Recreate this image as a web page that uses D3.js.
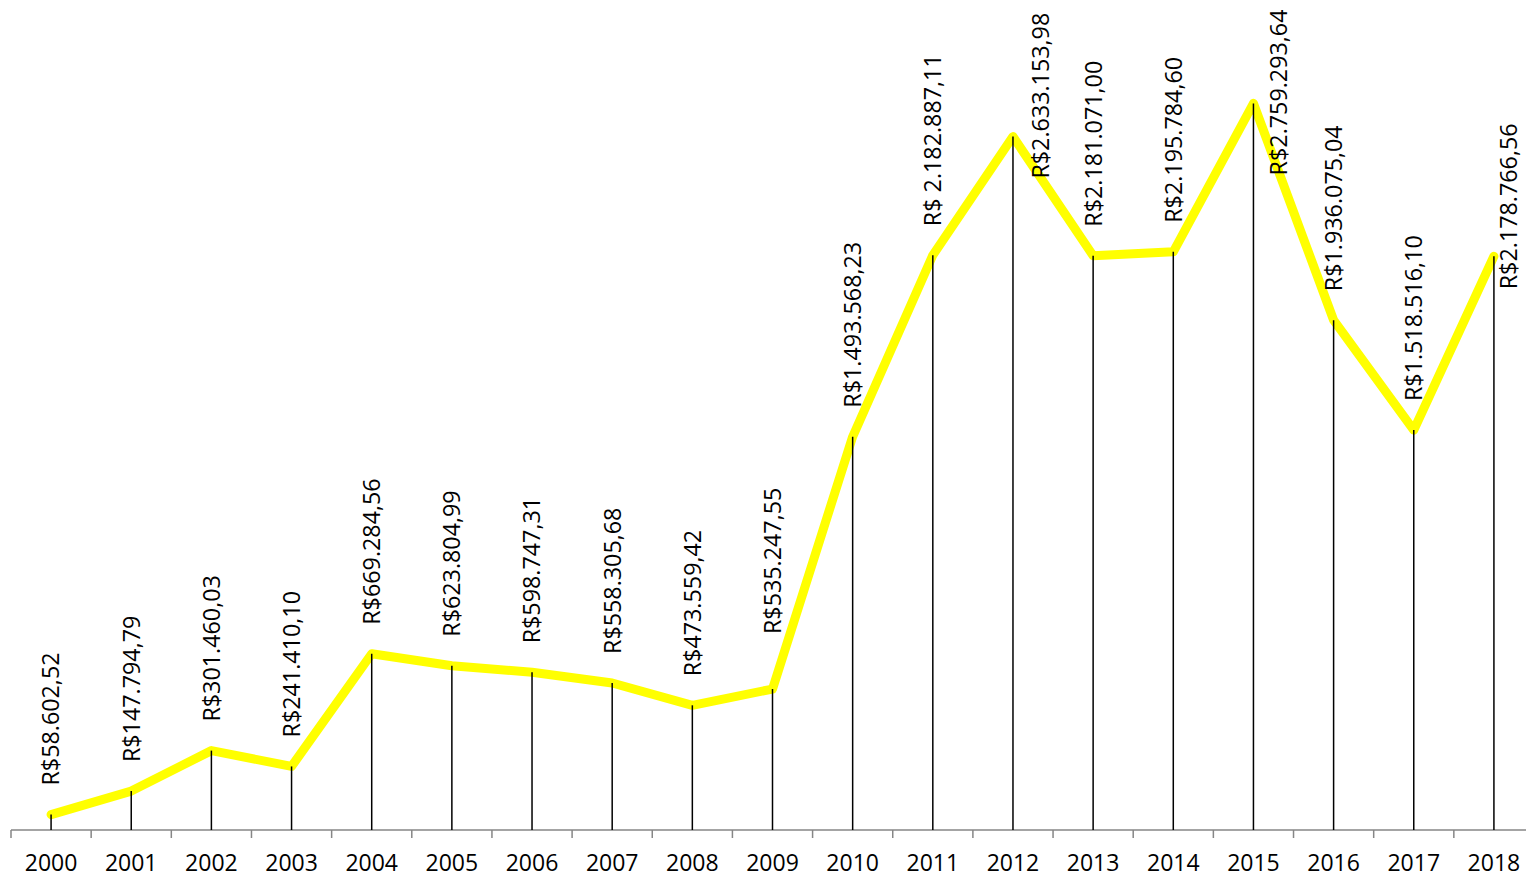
<!DOCTYPE html>
<html>
<head>
<meta charset="utf-8">
<script src="https://cdn.jsdelivr.net/npm/d3@7"></script>
<style>
  body { margin: 0; background: #fff; }
  svg { display: block; }
</style>
</head>
<body>
<div id="chart"></div>
<script>
// years on the category axis
const years = ["2000", "2001", "2002", "2003", "2004", "2005", "2006", "2007", "2008", "2009",
  "2010", "2011", "2012", "2013", "2014", "2015", "2016", "2017", "2018"];

// yearly values in R$
const values = [58602.52, 147794.79, 301460.03, 241410.10, 669284.56, 623804.99, 598747.31,
  558305.68, 473559.42, 535247.55, 1493568.23, 2182887.11, 2633153.98, 2181071.00,
  2195784.60, 2759293.64, 1936075.04, 1518516.10, 2178766.56];

// data labels as they appear on the chart
const labels = ["R$58.602,52", "R$147.794,79", "R$301.460,03", "R$241.410,10", "R$669.284,56",
  "R$623.804,99", "R$598.747,31", "R$558.305,68", "R$473.559,42", "R$535.247,55",
  "R$1.493.568,23", "R$ 2.182.887,11", "R$2.633.153,98", "R$2.181.071,00", "R$2.195.784,60",
  "R$2.759.293,64", "R$1.936.075,04", "R$1.518.516,10", "R$2.178.766,56"];

const width = 1526, height = 877;
const svg = d3.select("#chart").append("svg")
  .attr("width", width)
  .attr("height", height);

const data = years.map((y, i) => ({ year: y, value: values[i], label: labels[i] }));

const x = d3.scaleBand().domain(years).range([11, 1534]);
const y = d3.scaleLinear().domain([0, 3000000]).range([830, 40]);
const cx = d => x(d.year) + x.bandwidth() / 2;

// axis line + ticks at the band boundaries
const axis = svg.append("g").attr("stroke", "#868686").attr("stroke-width", 1.5);
axis.append("line").attr("x1", 11).attr("x2", width).attr("y1", y(0)).attr("y2", y(0));
axis.selectAll("line.tick")
  .data(years)
  .join("line")
    .attr("class", "tick")
    .attr("x1", d => x(d)).attr("x2", d => x(d))
    .attr("y1", y(0)).attr("y2", y(0) + 8);

svg.append("g")
  .selectAll("text")
  .data(years)
  .join("text")
    .attr("x", d => x(d) + x.bandwidth() / 2)
    .attr("y", 871)
    .attr("text-anchor", "middle")
    .attr("font-family", "'Open Sans', sans-serif")
    .attr("font-size", 23)
    .attr("fill", "#000")
    .text(d => d);

// the yellow line
const line = d3.line().x(cx).y(d => y(d.value));
svg.append("path")
  .datum(data)
  .attr("fill", "none")
  .attr("stroke", "#ffff00")
  .attr("stroke-width", 9)
  .attr("stroke-linejoin", "round")
  .attr("stroke-linecap", "round")
  .attr("d", line);

// drop lines from the axis to each point
svg.append("g")
  .selectAll("line")
  .data(data)
  .join("line")
    .attr("x1", cx).attr("x2", cx)
    .attr("y1", y(0)).attr("y2", d => y(d.value))
    .attr("stroke", "#000")
    .attr("stroke-width", 1.5);

// label nudges (dx, gap above point) for the labels moved by hand in the original
const nudge = { "2009": [0, 55], "2012": [28, -42], "2015": [25, -72], "2018": [15, -33] };

svg.append("g")
  .selectAll("text")
  .data(data)
  .join("text")
    .attr("transform", d => {
      const n = nudge[d.year] || [0, 29];
      return `translate(${cx(d) + n[0]},${y(d.value) - n[1]}) rotate(-90)`;
    })
    .attr("dy", "0.36em")
    .attr("font-family", "'Open Sans', sans-serif")
    .attr("font-size", 23.3)
    .attr("fill", "#000")
    .text(d => d.label);
</script>
</body>
</html>
